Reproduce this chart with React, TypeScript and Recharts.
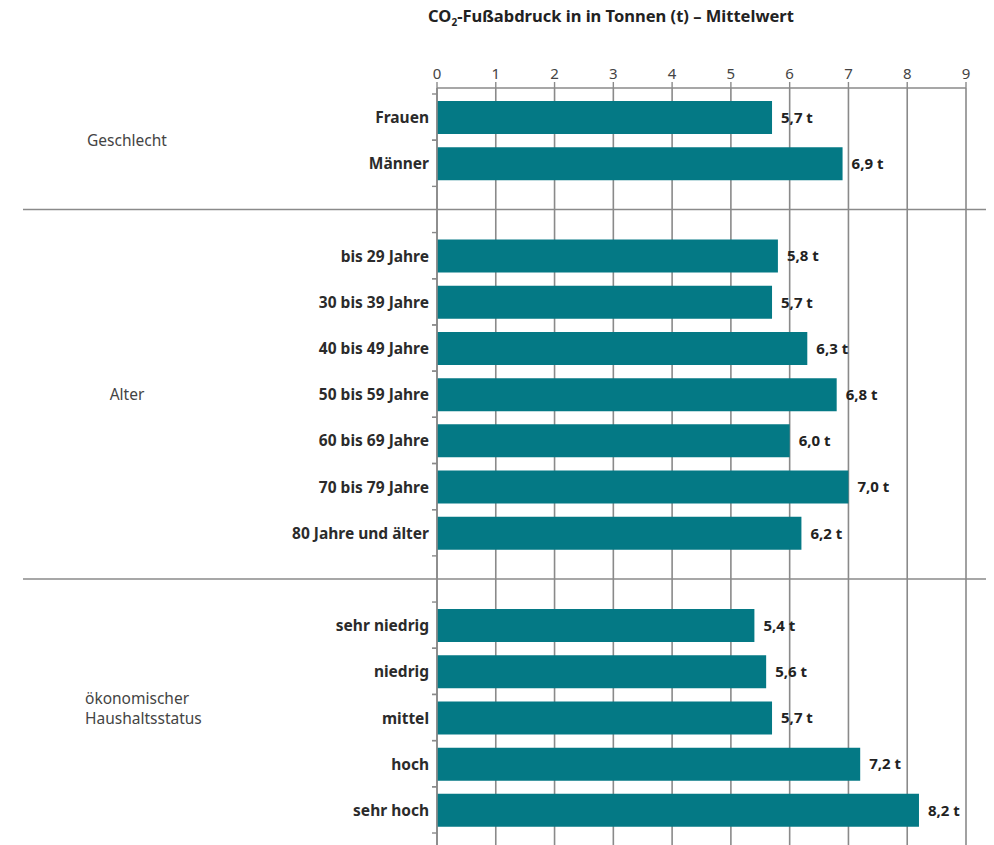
import { BarChart, Bar, XAxis, YAxis, CartesianGrid, LabelList } from 'recharts'

// categories incl. two spacer rows that carry the group separators
const categories = [
  'Frauen', 'Männer', '_sep1',
  'bis 29 Jahre', '30 bis 39 Jahre', '40 bis 49 Jahre', '50 bis 59 Jahre', '60 bis 69 Jahre', '70 bis 79 Jahre', '80 Jahre und älter', '_sep2',
  'sehr niedrig', 'niedrig', 'mittel', 'hoch', 'sehr hoch',
]
const values = [5.7, 6.9, null, 5.8, 5.7, 6.3, 6.8, 6.0, 7.0, 6.2, null, 5.4, 5.6, 5.7, 7.2, 8.2]

const groupNames = [['Geschlecht'], ['Alter'], ['ökonomischer', 'Haushaltsstatus']]
const groupMembers = [
  ['Frauen', 'Männer'],
  ['bis 29 Jahre', '30 bis 39 Jahre', '40 bis 49 Jahre', '50 bis 59 Jahre', '60 bis 69 Jahre', '70 bis 79 Jahre', '80 Jahre und älter'],
  ['sehr niedrig', 'niedrig', 'mittel', 'hoch', 'sehr hoch'],
]
const xTicks = [0, 1, 2, 3, 4, 5, 6, 7, 8, 9]

const data = categories.map((name, i) => ({ name, value: values[i] }))

const FONT = '"Noto Sans", sans-serif'
const TEAL = '#047985'
const GRID = '#8a8a8a'
const BAND = 46.2

const fmt = (v: any) => (v == null ? '' : `${Number(v).toFixed(1).replace('.', ',')} t`)

function CategoryTick(props: any) {
  const { x, y, payload } = props
  const name: string = payload.value
  const axisX = x + 8
  if (name.startsWith('_')) {
    return <line x1={23} x2={986} y1={y} y2={y} stroke={GRID} strokeWidth={1.6} />
  }
  const gi = groupMembers.findIndex((m) => m.includes(name))
  const members = groupMembers[gi]
  const idx = members.indexOf(name)
  const mid = (members.length - 1) / 2
  const lines = groupNames[gi]
  const multi = lines.length > 1
  const gy = y + (mid - idx) * BAND - (multi ? 20 : 0)
  return (
    <g>
      <line x1={axisX - 5} x2={axisX} y1={y - BAND / 2} y2={y - BAND / 2} stroke={GRID} strokeWidth={1.4} />
      <line x1={axisX - 5} x2={axisX} y1={y + BAND / 2} y2={y + BAND / 2} stroke={GRID} strokeWidth={1.4} />
      <text x={x} y={y} textAnchor="end" dominantBaseline="central" fontFamily={FONT} fontWeight={700} fontSize={15.5} fill="#2b2b2b">
        {name}
      </text>
      {idx === Math.floor(mid) && (
        <text x={multi ? 85 : 127} y={gy} textAnchor={multi ? 'start' : 'middle'} dominantBaseline="central" fontFamily={FONT} fontSize={15.5} fill="#444">
          {lines.map((l, k) => (
            <tspan key={k} x={multi ? 85 : 127} dy={k === 0 ? 0 : 20}>{l}</tspan>
          ))}
        </text>
      )}
    </g>
  )
}

export default function App() {
  return (
    <div style={{ position: 'absolute', left: 0, top: 0, width: 994, height: 845, background: '#fff' }}>
      <div
        style={{
          position: 'absolute', top: 4, left: 0, width: 1222, textAlign: 'center',
          fontFamily: FONT, fontWeight: 700, fontSize: 16.5, color: '#222',
        }}
      >
        CO<sub style={{ fontSize: 10 }}>2</sub>-Fußabdruck in in Tonnen (t) – Mittelwert
      </div>
      <BarChart
        width={994}
        height={845}
        data={data}
        layout="vertical"
        margin={{ top: 58, right: 28, bottom: 0, left: 0 }}
        barCategoryGap={0}
      >
        <CartesianGrid horizontal={false} stroke={GRID} strokeWidth={1.6} />
        <XAxis
          type="number"
          orientation="top"
          domain={[0, 9]}
          ticks={xTicks}
          height={30}
          tickSize={6}
          tickMargin={3}
          axisLine={{ stroke: GRID, strokeWidth: 1.6 }}
          tickLine={{ stroke: GRID, strokeWidth: 1.4 }}
          tick={{ fontFamily: FONT, fontSize: 15, fill: '#444' }}
        />
        <YAxis
          type="category"
          dataKey="name"
          width={437}
          padding={{ top: 6, bottom: 12 }}
          axisLine={{ stroke: GRID, strokeWidth: 1.6 }}
          tickLine={false}
          tick={<CategoryTick />}
          interval={0}
        />
        <Bar dataKey="value" fill={TEAL} barSize={33} isAnimationActive={false}>
          <LabelList
            dataKey="value"
            position="right"
            offset={9}
            formatter={fmt}
            style={{ fontFamily: FONT, fontWeight: 700, fontSize: 15, fill: '#222' }}
          />
        </Bar>
      </BarChart>
    </div>
  )
}
